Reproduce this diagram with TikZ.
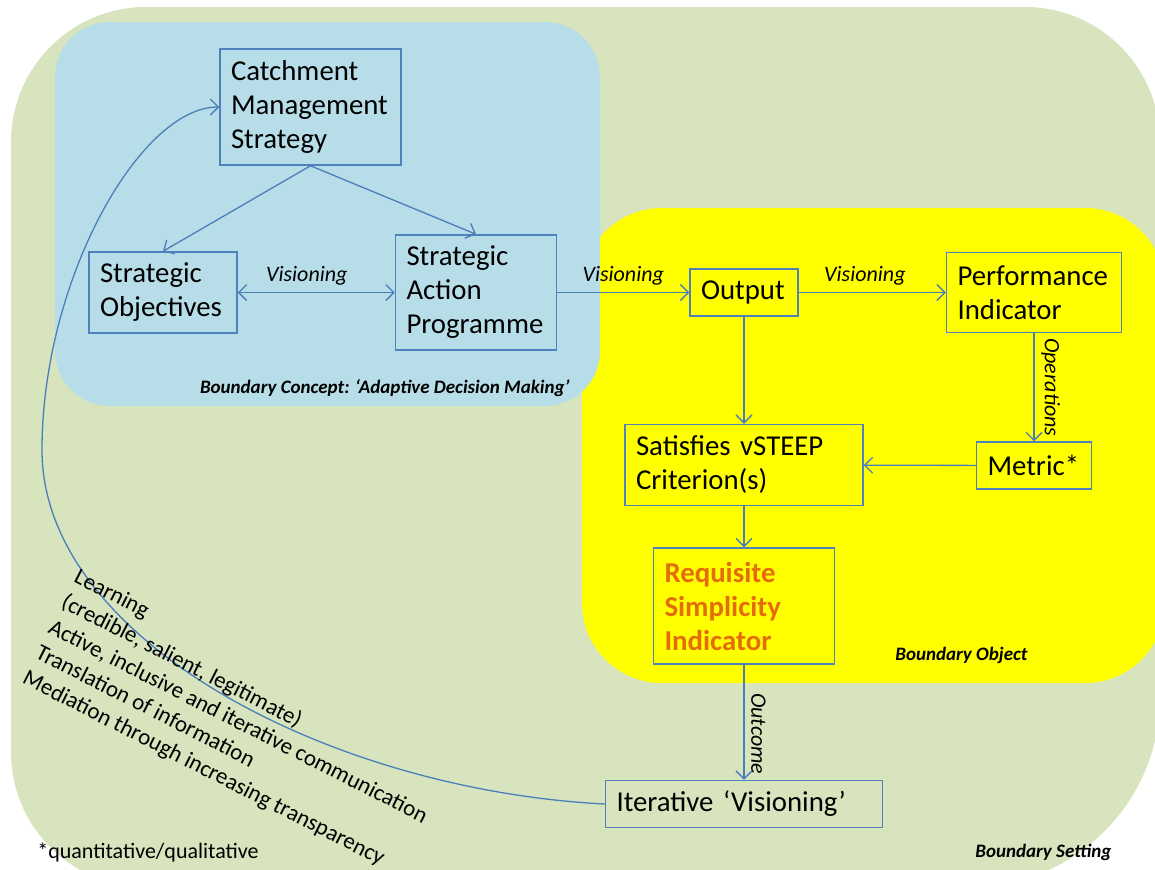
\documentclass[tikz,border=0pt]{standalone}
\usepackage{fontspec}
\setmainfont{Carlito}
\usepackage{tikz}
\usetikzlibrary{arrows.meta,positioning}
\definecolor{SettingGreen}{HTML}{D7E4BD}
\definecolor{ConceptBlue}{HTML}{B7DEE8}
\definecolor{ObjectYellow}{HTML}{FFFF00}
\definecolor{BoxBlue}{HTML}{4F81BD}
\definecolor{LineBlue}{HTML}{4A7EBB}
\definecolor{ReqOrange}{HTML}{E46C0A}
\hyphenpenalty=10000

\begin{document}
\begin{tikzpicture}[
  x=0.5pt, y=-0.5pt,
  >={Straight Barb[length=4pt,width=8pt]},
  box/.style={draw=BoxBlue,line width=0.75pt,align=left,inner xsep=5.5pt,
    font=\fontsize{14.4}{17}\selectfont},
  arrow/.style={->,draw=LineBlue,line width=0.65pt},
  lbl/.style={font=\fontsize{11}{13}\selectfont\itshape},
  tag/.style={font=\fontsize{9.5}{11}\selectfont\bfseries\itshape,inner sep=0pt},
  noteblock/.style={font=\fontsize{11.5}{14.2}\selectfont,align=left,inner sep=0pt}
]
  \useasboundingbox (0,0) rectangle (1155,869);

  % boundaries
  \begin{scope}
    \clip (0,0) rectangle (1155,869);
    \fill[SettingGreen] (1160,400) [rounded corners=95pt] -- (1160,887) -- (600,887)
      [rounded corners=67.5pt] -- (11,887) -- (11,7) -- (1160,7) -- cycle;
    \fill[ObjectYellow,rounded corners=40pt] (582,208) rectangle (1165,683);
    \fill[ConceptBlue,rounded corners=27.5pt] (55,22) rectangle (600,406);
  \end{scope}

  \node[box,text width=79.5pt,minimum height=58pt] (cms) at (310.5,107) {Catchment\\Management\\Strategy};
  \node[box,text width=43pt,minimum height=23.5pt] (out) at (744,292.5) {Output};
  \node[box,text width=69.5pt,minimum height=57.5pt,left=66pt of out] (sap) {Strategic\\Action\\Programme};
  \node[box,text width=63pt,minimum height=40.5pt,left=78.5pt of sap] (so) {Strategic\\Objectives};
  \node[box,text width=76.5pt,minimum height=40pt,right=73.5pt of out] (pi) {Performance\\Indicator};
  \node[box,text width=46.5pt,minimum height=23.5pt,below=54pt of pi] (met) {Metric*};
  \node[box,text width=108pt,minimum height=40.5pt,below=53.5pt of out] (sat) {Satisfies vSTEEP\\Criterion(s)};
  \node[box,text width=79.5pt,minimum height=58pt,below=20.5pt of sat,
    text=ReqOrange,font=\fontsize{14.4}{17}\selectfont\bfseries] (rsi) {Requisite\\Simplicity\\Indicator};
  \node[box,text width=127.5pt,minimum height=23.5pt,below=57.5pt of rsi] (iter) {Iterative `Visioning'};

  \draw[arrow] (cms.south) -- (so.north);
  \draw[arrow] (cms.south) -- (sap.north);
  \draw[arrow,<->] (so) -- node[lbl,above,pos=0.44]{Visioning} (sap);
  \draw[arrow] (sap) -- node[lbl,above]{Visioning} (out);
  \draw[arrow] (out) -- node[lbl,above,pos=0.45]{Visioning} (pi);
  \draw[arrow] (pi) -- node[lbl,midway,sloped,above]{Operations} (met);
  \draw[arrow] (out) -- (sat);
  \draw[arrow] (met) -- (sat);
  \draw[arrow] (sat) -- (rsi);
  \draw[arrow] (rsi) -- node[lbl,pos=0.6,sloped,above]{Outcome} (iter);

  % feedback loop
  \coordinate (bend) at (42,450);
  \draw[arrow] (iter.west) .. controls (330,790) and (42,640) .. (bend)
    .. controls (42,280) and (140,107) .. (cms.west);

  \node[noteblock,rotate=-27,anchor=north west] (notes) at (80,567)
    {Learning\\(credible, salient, legitimate)\\Active, inclusive and iterative communication\\Translation of information\\Mediation through increasing transparency};
  \node[anchor=base west,inner sep=0pt,font=\fontsize{11}{13}\selectfont] (foot) at (37,858) {*quantitative/qualitative};

  \node[tag,anchor=base east] (bconcept) at (570,393) {Boundary Concept: `Adaptive Decision Making'};
  \node[tag,anchor=base west] (bobject) at (895,660) {Boundary Object};
  \node[tag,anchor=base west] (bsetting) at (975,857) {Boundary Setting};
\end{tikzpicture}
\end{document}
